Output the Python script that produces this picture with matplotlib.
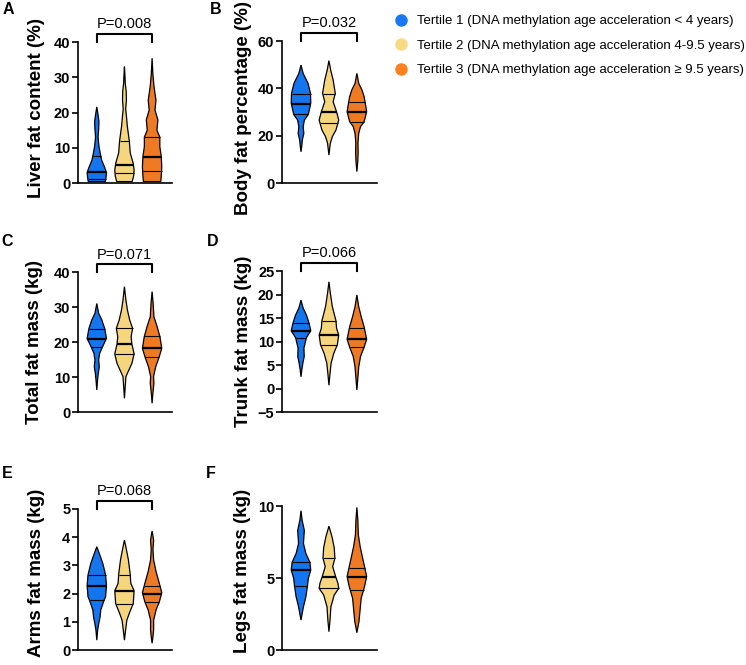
import matplotlib.pyplot as plt
import matplotlib.transforms as mtransforms
from matplotlib.lines import Line2D
import numpy as np

plt.rcParams['font.family'] = ['Liberation Sans', 'DejaVu Sans']

groups = ['Tertile 1 (DNA methylation age acceleration < 4 years)',
          'Tertile 2 (DNA methylation age acceleration 4-9.5 years)',
          'Tertile 3 (DNA methylation age acceleration \u2265 9.5 years)']
colors = ['#1475EE', '#F6D57F', '#EF7A24']
legend_colors = ['#1A78F2', '#F8DA85', '#FF8020']

# violin outlines: value levels (top -> bottom) and relative density width
# quartiles per tertile: Q1, median, Q3

# A  liver fat content (%)
liver_levels = [[21.6, 19.5, 17.5, 15.5, 13.0, 10.5, 8.5, 6.5, 4.5, 3.0, 1.5, 0.4],
                [33.0, 30.0, 28.4, 26.0, 23.5, 21.0, 18.5, 16.0, 12.0, 8.5, 5.6, 3.7, 2.0, 0.4],
                [35.4, 31.0, 27.3, 23.5, 20.7, 17.9, 15.0, 13.0, 10.3, 7.5, 4.6, 2.0, 0.4]]
liver_widths = [[0, 0.12, 0.22, 0.2, 0.13, 0.22, 0.35, 0.5, 0.8, 1.0, 0.95, 0.88],
                [0, 0.06, 0.08, 0.18, 0.2, 0.13, 0.22, 0.3, 0.5, 0.6, 0.9, 1.0, 0.95, 0.8],
                [0, 0.08, 0.2, 0.4, 0.3, 0.6, 0.5, 0.8, 0.8, 0.95, 1.0, 0.95, 0.9]]
liver_quart = [[1.2, 3.0, 7.6], [2.7, 5.1, 11.9], [3.4, 7.3, 13.1]]

# B  body fat percentage (%)
bodyfat_levels = [[49.8, 46.3, 42.1, 37.9, 33.7, 29.0, 26.6, 23.8, 21.0, 18.2, 15.3, 13.2],
                  [51.7, 47.7, 43.5, 40.7, 37.9, 34.3, 30.1, 26.6, 22.4, 19.6, 16.8, 11.8],
                  [46.3, 42.1, 39.3, 36.5, 32.2, 30.1, 25.9, 23.8, 21.0, 17.0, 13.0, 9.0, 4.8]]
bodyfat_widths = [[0, 0.22, 0.72, 0.97, 1.0, 0.75, 0.35, 0.22, 0.29, 0.14, 0.07, 0],
                  [0, 0.18, 0.43, 0.54, 0.65, 0.43, 0.78, 1.0, 0.72, 0.35, 0.14, 0],
                  [0, 0.19, 0.52, 0.74, 0.92, 1.0, 0.74, 0.37, 0.19, 0.11, 0.13, 0.09, 0]]
bodyfat_quart = [[29.0, 33.5, 37.7], [25.2, 30.0, 37.7], [25.9, 30.1, 34.3]]

# C  total fat mass (kg)
total_levels = [[31.0, 28.2, 26.3, 23.9, 21.0, 19.1, 16.8, 14.9, 12.9, 11.0, 9.1, 6.3],
                [35.8, 32.0, 29.1, 26.3, 23.9, 21.5, 19.4, 16.6, 13.9, 12.0, 10.1, 3.9],
                [34.4, 31.0, 27.2, 24.4, 21.5, 18.2, 15.8, 12.9, 10.1, 8.2, 5.3, 2.5]]
total_widths = [[0, 0.19, 0.52, 0.81, 1.0, 0.67, 0.3, 0.19, 0.26, 0.15, 0.08, 0],
                [0, 0.15, 0.31, 0.54, 0.84, 0.69, 0.77, 1.0, 0.77, 0.46, 0.15, 0],
                [0, 0.11, 0.19, 0.52, 0.81, 1.0, 0.74, 0.37, 0.15, 0.19, 0.08, 0]]
total_quart = [[18.5, 20.8, 23.7], [16.5, 19.3, 23.9], [15.6, 18.2, 21.6]]

# D  trunk fat mass (kg)
trunk_levels = [[18.8, 17.1, 15.6, 14.0, 12.3, 10.8, 8.6, 6.8, 5.4, 3.9, 2.5],
                [22.7, 20.3, 17.4, 15.6, 14.4, 12.8, 11.4, 9.3, 7.5, 5.4, 3.2, 0.7],
                [19.9, 17.4, 15.3, 13.1, 10.5, 8.8, 6.8, 4.6, 2.5, -0.3]]
trunk_widths = [[0, 0.22, 0.56, 0.81, 1.0, 0.55, 0.3, 0.33, 0.19, 0.08, 0],
                [0, 0.14, 0.35, 0.57, 0.72, 0.78, 1.0, 0.86, 0.5, 0.22, 0.11, 0],
                [0, 0.19, 0.44, 0.74, 1.0, 0.74, 0.37, 0.19, 0.11, 0]]
trunk_quart = [[10.8, 12.3, 13.9], [9.3, 11.4, 14.4], [8.8, 10.5, 12.9]]

# E  arms fat mass (kg)
arms_levels = [[3.66, 3.43, 3.07, 2.66, 2.28, 1.89, 1.76, 1.42, 1.18, 0.95, 0.71, 0.35],
               [3.9, 3.55, 3.19, 2.7, 2.36, 2.1, 1.65, 1.3, 1.06, 0.71, 0.35],
               [4.22, 3.9, 3.55, 3.19, 2.78, 2.36, 2.03, 1.71, 1.42, 1.06, 0.71, 0.47, 0.24]]
arms_widths = [[0, 0.25, 0.62, 0.91, 1.0, 0.91, 0.75, 0.41, 0.34, 0.21, 0.09, 0],
               [0, 0.21, 0.41, 0.59, 0.66, 1.0, 0.91, 0.5, 0.25, 0.12, 0],
               [0, 0.16, 0.09, 0.16, 0.41, 0.75, 1.0, 0.75, 0.41, 0.16, 0.16, 0.09, 0]]
arms_quart = [[1.76, 2.27, 2.66], [1.63, 2.1, 2.67], [1.7, 2.0, 2.27]]

# F  legs fat mass (kg)
legs_levels = [[9.67, 9.0, 8.3, 7.4, 6.7, 6.09, 5.56, 4.98, 4.44, 3.7, 3.0, 2.08],
               [8.6, 7.87, 7.1, 6.37, 5.79, 5.09, 4.63, 4.28, 3.82, 3.0, 2.08, 1.27],
               [9.9, 9.0, 8.0, 7.2, 6.5, 5.8, 5.1, 4.4, 3.6, 2.8, 2.0, 1.2]]
legs_widths = [[0, 0.12, 0.34, 0.25, 0.5, 0.91, 1.0, 0.75, 0.66, 0.5, 0.25, 0],
               [0, 0.31, 0.54, 0.61, 0.38, 0.69, 0.92, 1.0, 0.54, 0.2, 0.11, 0],
               [0, 0.1, 0.15, 0.33, 0.55, 0.78, 1.0, 0.78, 0.44, 0.33, 0.22, 0]]
legs_quart = [[4.44, 5.56, 6.09], [4.28, 5.09, 6.37], [4.2, 5.1, 5.7]]

W, H = 746, 665
fig = plt.figure(figsize=(W / 100, H / 100), dpi=100)


def rect(x0, top, w, bottom):
    return [x0 / W, 1 - bottom / H, w / W, (bottom - top) / H]


panels = [
    ('A', 'Liver fat content (%)', liver_levels, liver_widths, liver_quart,
     [0, 10, 20, 30, 40], 'P=0.008', rect(78, 42, 94, 183), (8, 10), (-0.44, 0.53)),
    ('B', 'Body fat percentage (%)', bodyfat_levels, bodyfat_widths, bodyfat_quart,
     [0, 20, 40, 60], 'P=0.032', rect(282, 41, 95, 183), (216, 9), (-0.41, 0.53)),
    ('C', 'Total fat mass (kg)', total_levels, total_widths, total_quart,
     [0, 10, 20, 30, 40], 'P=0.071', rect(78, 272, 94, 412), (7, 242), (-0.46, 0.5)),
    ('D', 'Trunk fat mass (kg)', trunk_levels, trunk_widths, trunk_quart,
     [-5, 0, 5, 10, 15, 20, 25], 'P=0.066', rect(282, 271, 95, 412), (213, 242), (-0.41, 0.5)),
    ('E', 'Arms fat mass (kg)', arms_levels, arms_widths, arms_quart,
     [0, 1, 2, 3, 4, 5], 'P=0.068', rect(78, 509, 94, 650), (7, 473), (-0.44, 0.55)),
    ('F', 'Legs fat mass (kg)', legs_levels, legs_widths, legs_quart,
     [0, 5, 10], None, rect(282, 506, 95, 650), (211, 473), (-0.42, 0.55)),
]

half = 0.35  # half width of a violin at full density, in category units

for letter, ylab, levels, widths, quart, yticks, pval, r, lpos, lc in panels:
    ax = fig.add_axes(r)
    for i in range(3):
        lv = np.array(levels[i])
        wd = np.array(widths[i]) * half
        xs = np.concatenate([i + wd, (i - wd)[::-1]])
        ys = np.concatenate([lv, lv[::-1]])
        ax.fill(xs, ys, facecolor=colors[i], edgecolor='black', lw=0.9, zorder=2)
        for k, q in enumerate(quart[i]):
            qw = np.interp(q, lv[::-1], wd[::-1])
            ax.plot([i - qw, i + qw], [q, q], color='black',
                    lw=1.6 if k == 1 else 0.8, zorder=3, solid_capstyle='butt')
    ax.set_xlim(-0.68, 2.72)
    ax.set_ylim(yticks[0], yticks[-1])
    ax.set_yticks(yticks)
    ax.set_xticks([])
    for s in ['top', 'right']:
        ax.spines[s].set_visible(False)
    for s in ['left', 'bottom']:
        ax.spines[s].set_linewidth(1.2)
    ax.tick_params(axis='y', length=4, width=1.2, pad=1.5, labelsize=10.5)
    for t in ax.get_yticklabels():
        t.set_fontweight('bold')
    ax.set_ylabel(ylab, fontsize=13.5, fontweight='bold', va='center')
    ax.yaxis.set_label_coords(*lc)
    if pval:
        tr = mtransforms.blended_transform_factory(ax.transData, ax.transAxes)
        ax.plot([0, 0, 2, 2], [1.0, 1.057, 1.057, 1.0], color='black', lw=1.5,
                transform=tr, clip_on=False)
        ax.text(1, 1.125, pval, transform=tr, ha='center', va='center', fontsize=10.5)
    fig.text(lpos[0] / W, 1 - lpos[1] / H, letter, ha='center', va='center',
             fontsize=11.5, fontweight='bold')

handles = [Line2D([], [], marker='o', ls='', color=c, markersize=8) for c in legend_colors]
fig.legend(handles, groups, loc='upper left', bbox_to_anchor=(394 / W, 1 - 15 / H),
           frameon=False, fontsize=9.5, handlelength=1.0, handletextpad=0.71,
           labelspacing=0.93, borderpad=0, borderaxespad=0)

fig.savefig('out.png', dpi=100)
